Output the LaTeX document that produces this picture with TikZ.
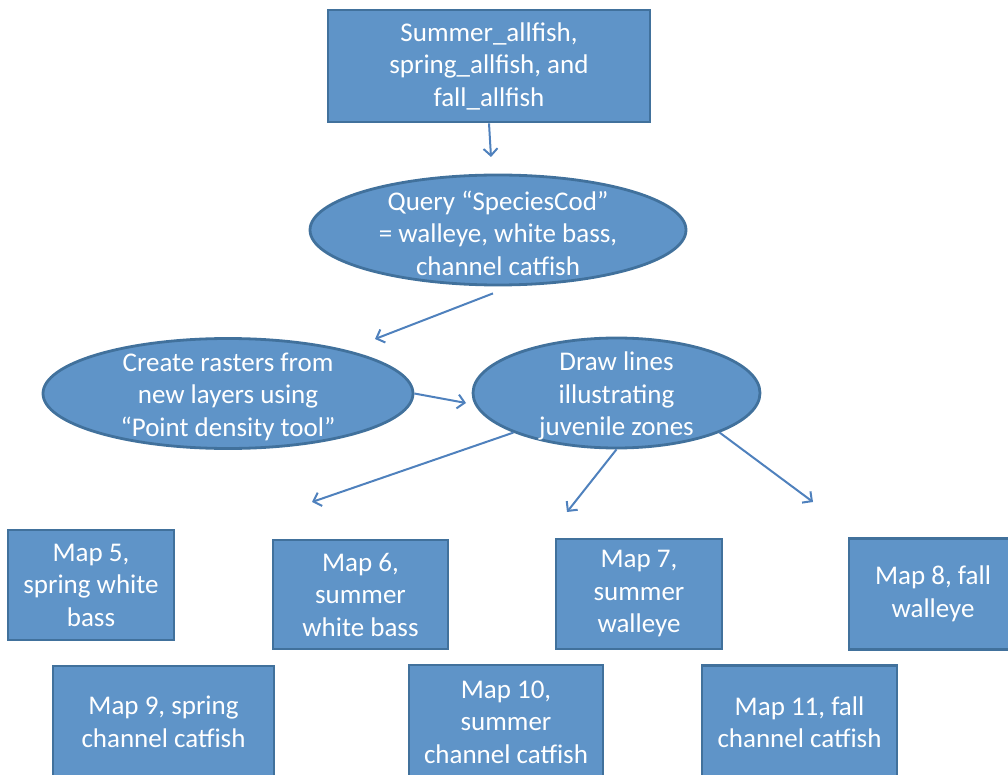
\documentclass[tikz,border=0pt]{standalone}
\usepackage{fontspec}
\setmainfont{Carlito}
\usetikzlibrary{shapes.geometric,arrows.meta}
\definecolor{boxfill}{HTML}{5F94C8}
\definecolor{boxline}{HTML}{41719C}
\definecolor{arrcol}{HTML}{4F81BD}
\begin{document}
\begin{tikzpicture}[x=1pt,y=-1pt,
  txt/.style={text=white,font=\fontsize{27}{32.5}\selectfont,align=center},
  box/.style={rectangle,draw=boxline,line width=2.8pt,fill=boxfill,txt,inner sep=0pt},
  ell/.style={ellipse,draw=boxline,line width=2.8pt,fill=boxfill,inner sep=0pt},
  arr/.style={draw=arrcol,line width=2pt,-{Straight Barb[length=7pt,width=14pt]}}]
\useasboundingbox (0,0) rectangle (1008,775);

\node[box,minimum width=322pt,minimum height=112pt] (top) at (489,66) {Summer\_allfish,\\spring\_allfish, and\\fall\_allfish};

\node[ell,minimum width=376pt,minimum height=110pt] (q) at (498,230) {};
\node[txt,yshift=-3pt] (qt) at (q) {Query “SpeciesCod”\\= walleye, white bass,\\channel catfish};

\node[ell,minimum width=370pt,minimum height=110pt] (ras) at (228,393.5) {};
\node[txt,yshift=-3pt] (rast) at (ras) {Create rasters from\\new layers using\\“Point density tool”};

\node[ell,minimum width=287pt,minimum height=110pt] (dl) at (616.5,393) {};
\node[txt,yshift=-3pt] (dlt) at (dl) {Draw lines\\illustrating\\juvenile zones};

\node[box,minimum width=166pt,minimum height=110pt] (m5) at (91,585) {Map 5,\\spring white\\bass};
\node[box,minimum width=175pt,minimum height=109pt] (m6) at (360.5,594.5) {Map 6,\\summer\\white bass};
\node[box,minimum width=166pt,minimum height=110pt] (m7) at (639,594) {Map 7,\\summer\\walleye};
\node[box,minimum width=168pt,minimum height=111pt] (m8) at (933,594) {Map 8, fall\\walleye};
\node[box,minimum width=221pt,minimum height=112pt] (m9) at (163.5,722) {Map 9, spring\\channel catfish};
\node[box,minimum width=194pt,minimum height=114pt] (m10) at (506,722) {Map 10,\\summer\\channel catfish};
\node[box,minimum width=195pt,minimum height=113pt] (m11) at (799.5,722) {Map 11, fall\\channel catfish};

\coordinate (e1) at (491,157);
\draw[arr] (top.south) -- (e1);
\coordinate (e2) at (375,339);
\draw[arr] ([xshift=-5pt,yshift=-7pt]q.south) -- (e2);
\coordinate (e3) at (466,403);
\draw[arr] (ras.east) -- (e3);
\coordinate (e4) at (312,502);
\draw[arr] (dl.201.5) -- (e4);
\coordinate (e5) at (567,512);
\draw[arr] (dl.south) -- (e5);
\coordinate (e6) at (813,502);
\draw[arr] (dl.-21) -- (e6);
\end{tikzpicture}
\end{document}
